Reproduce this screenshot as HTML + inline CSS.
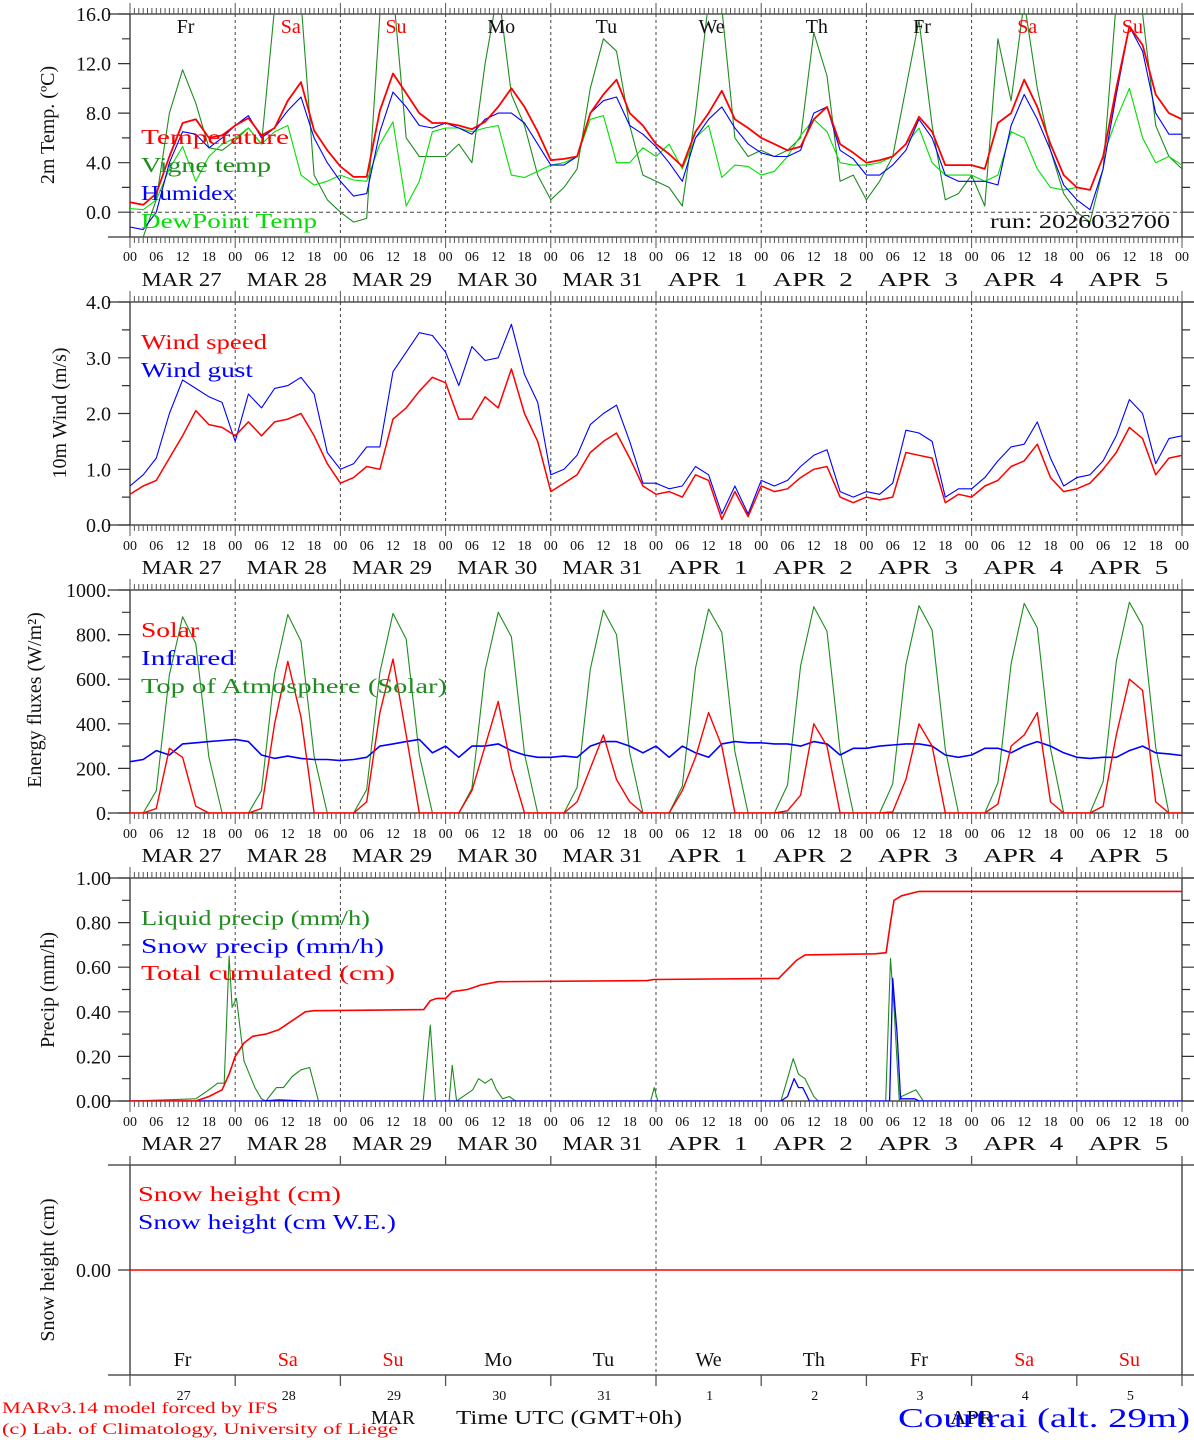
<!DOCTYPE html>
<html><head><meta charset="utf-8"><style>
html,body{margin:0;padding:0;background:#fff;}
svg{display:block;font-family:"Liberation Serif","DejaVu Serif",serif;}
.pre{white-space:pre;}
</style></head><body>
<svg id="c" width="1194" height="1440" viewBox="0 0 1194 1440" xmlns="http://www.w3.org/2000/svg"></svg>
<script>
// ---------- DATA (3-hourly, 0..240 h) ----------
const dayNames=['Fr','Sa','Su','Mo','Tu','We','Th','Fr','Sa','Su'];
const dateLabels=['MAR 27','MAR 28','MAR 29','MAR 30','MAR 31','APR  1','APR  2','APR  3','APR  4','APR  5'];
const dayNums=['27','28','29','30','31','1','2','3','4','5'];
const hourLabels=['00','06','12','18'];

const temperature=[0.8,0.6,1.5,4.5,7.2,7.5,6.0,6.2, 7.0,7.6,6.2,6.8,9.0,10.5,6.6,5.0, 3.7,2.85,2.85,8.2,11.2,9.6,8.0,7.2, 7.2,7.0,6.7,7.3,8.5,10.0,8.5,6.5, 4.2,4.3,4.5,8.0,9.5,10.7,8.0,7.0, 5.5,4.7,3.7,6.5,8.0,9.8,7.5,6.8, 6.0,5.5,5.0,5.3,7.5,8.5,5.5,4.8, 4.0,4.2,4.5,5.5,7.7,6.5,3.8,3.8, 3.8,3.5,7.2,8.0,10.7,8.5,5.5,3.0, 2.0,1.8,4.5,10.0,15.0,13.5,9.5,8.0, 7.5];
const humidex=[-1.2,-1.4,0,4,6.5,6.3,5.2,6.0, 7.0,7.8,6.0,6.8,8.2,9.3,6.0,4.0, 2.5,1.3,1.5,6.5,9.7,8.5,7.0,6.8, 7.2,6.8,6.3,7.5,8.0,8.0,7.2,5.5, 3.8,3.8,4.5,8.0,9.0,9.3,7.0,6.3, 5.3,4.0,2.5,6.0,7.5,8.5,6.8,5.5, 4.8,4.5,4.5,5.0,8.0,8.5,5.0,4.3, 3.0,3.0,3.8,5.0,7.5,6.0,3.0,2.5, 2.5,2.5,2.2,7.0,9.5,7.5,5.0,2.2, 1.0,0.2,3.5,9.5,15.0,13.0,8.0,6.3, 6.3];
const dewPoint=[0.3,0.2,1.0,3.5,5.3,2.5,4.5,5.5, 6.0,6.8,5.5,6.5,7.0,3.0,2.2,2.5, 3.0,2.6,2.5,5.5,7.3,0.5,2.5,6.5, 6.8,6.8,6.5,6.8,7.0,3.0,2.8,3.3, 3.8,4.0,4.5,7.5,7.8,4.0,4.0,5.2, 4.5,5.5,3.5,6.0,7.0,2.8,3.8,3.7, 3.0,3.3,4.5,6.2,7.5,6.5,4.0,3.8, 3.8,4.0,4.5,5.5,6.8,4.0,3.0,3.0, 3.0,2.5,3.0,6.5,6.0,3.5,2.0,1.8, 2.0,1.8,4.5,7.5,10.0,6.0,4.0,4.5, 3.8];
const vigneTemp=[-2.5,-2,1,8,11.5,8.8,5.2,5.0, 5.8,6.8,5.5,16.5,20,17,3,1, 0,-0.8,-0.5,16,18,6,4.5,4.5, 4.5,5.5,4.0,12,18,9.5,7.0,3.0, 1.0,2.0,3.5,10,14,13,7,3, 2.5,2.0,0.5,8.0,17,16.5,6.0,4.5, 5.0,4.5,5.0,6.0,14.5,11,2.5,3.0, 1.0,2.5,4.5,10.0,15.5,7,1.0,1.5, 3.0,0.5,14.0,9.0,17,10,5,1.5, 0,-0.8,3.5,17,20,16,7,4.5, 3.5];

const windSpeed=[0.55,0.7,0.8,1.2,1.6,2.05,1.8,1.75, 1.6,1.85,1.6,1.85,1.9,2.0,1.6,1.1, 0.75,0.85,1.05,1.0,1.9,2.1,2.4,2.65, 2.55,1.9,1.9,2.3,2.1,2.8,2.0,1.5, 0.6,0.75,0.9,1.3,1.5,1.65,1.2,0.7, 0.55,0.6,0.5,0.9,0.8,0.1,0.6,0.15, 0.7,0.6,0.65,0.85,1.0,1.05,0.5,0.4, 0.5,0.45,0.5,1.3,1.25,1.2,0.4,0.55, 0.5,0.7,0.8,1.05,1.15,1.45,0.85,0.6, 0.65,0.75,1.0,1.3,1.75,1.55,0.9,1.2, 1.25];
const windGust=[0.7,0.9,1.2,2.0,2.6,2.45,2.3,2.2, 1.5,2.35,2.1,2.45,2.5,2.65,2.35,1.3, 1.0,1.1,1.4,1.4,2.75,3.1,3.45,3.4, 3.1,2.5,3.2,2.95,3.0,3.6,2.7,2.2, 0.9,1.0,1.25,1.8,2.0,2.15,1.5,0.75, 0.75,0.65,0.7,1.05,0.9,0.2,0.7,0.2, 0.8,0.7,0.8,1.05,1.25,1.35,0.6,0.5, 0.6,0.55,0.75,1.7,1.65,1.5,0.5,0.65, 0.65,0.85,1.15,1.4,1.45,1.85,1.2,0.7, 0.85,0.9,1.15,1.6,2.25,2.0,1.1,1.55, 1.6];

const toaSolar=[0,0,100,620,880,760,250,0, 0,0,100,625,890,770,255,0, 0,0,105,630,895,780,260,0, 0,0,110,640,900,790,265,0, 0,0,115,645,910,800,270,0, 0,0,120,650,915,810,275,0, 0,0,125,660,925,815,280,0, 0,0,130,665,930,820,285,0, 0,0,135,670,940,830,290,0, 0,0,140,680,945,840,295,0, 0];
const solar=[0,0,20,290,250,30,0,0, 0,0,20,400,680,430,0,0, 0,0,50,450,690,350,0,0, 0,0,100,300,500,200,0,0, 0,0,50,200,350,150,50,0, 0,0,100,250,450,300,0,0, 0,0,10,80,400,300,0,0, 0,0,5,150,400,300,0,0, 0,0,40,300,350,450,50,0, 0,0,30,350,600,550,50,0, 0];
const infrared=[230,240,280,260,310,315,320,325, 330,320,260,245,255,245,240,240, 235,240,250,300,310,320,330,270, 300,250,300,300,310,280,260,250, 250,255,250,300,320,320,300,270, 300,250,300,270,250,310,320,315, 315,310,310,300,320,310,260,290, 290,300,305,310,310,300,260,250, 260,290,290,270,300,320,300,270, 250,245,250,250,280,300,270,265, 258];

const liquidHours=[0,15,18,20,21.5,22.6,23.3,24.3,26,28.5,30,31,33.4,35,37,39,41,43, 66.9,68.5,69.7,72.8,73.5,74.5,78.2,79.5,81,82.5,83.6,85,86.5,88, 118.8,119.6,120.4, 148.5,150,151.3,152.5,154,156,157, 172.4,173.5,174.3,175.5,176,179.3,181,240];
const liquidVals=[0,0.01,0.05,0.08,0.08,0.65,0.42,0.46,0.18,0.06,0.01,0,0.06,0.06,0.11,0.14,0.15,0, 0,0.34,0, 0,0.16,0, 0.05,0.1,0.08,0.1,0.05,0.01,0.02,0, 0,0.06,0, 0,0.1,0.19,0.12,0.1,0.02,0, 0,0.64,0.42,0,0.02,0.05,0,0];
const snowHours=[0,30,34,40,148.5,150,151.5,152.5,153.5,155,173.3,174,175,175.8,179,180,240];
const snowVals=[0,0,0.005,0,0,0.02,0.1,0.06,0.06,0,0,0.55,0.3,0.01,0.01,0,0];
const cumHours=[0,15,18,21,22.6,24,26,28,31,34,37,40,42,67,68.5,70,72,73.5,77,80,84,118,119.5,148,150,152,154,170,172.5,173.5,174.3,176,180,240];
const cumVals=[0,0,0.02,0.05,0.12,0.2,0.26,0.29,0.3,0.32,0.36,0.4,0.405,0.41,0.45,0.46,0.46,0.49,0.5,0.52,0.535,0.54,0.545,0.55,0.59,0.63,0.655,0.66,0.665,0.8,0.9,0.92,0.94,0.94];
const snowHeight=[0,0];
const snowHeightHours=[0,240];

// ---------- DRAWING ----------
const svg=document.getElementById('c');
const NS='http://www.w3.org/2000/svg';
const X0=130, DW=105.2, X1=X0+10*DW;
function X(h){return X0+h/24*DW;}
function el(tag,attrs,parent){const e=document.createElementNS(NS,tag);for(const k in attrs)e.setAttribute(k,attrs[k]);(parent||svg).appendChild(e);return e;}
function txt(s,x,y,attrs,parent){const e=el('text',Object.assign({x:x,y:y},attrs),parent);e.textContent=s;return e;}
const RED='#ff0000',BLUE='#0000ff',DG='#1e8c1e',LG='#00e000';

const panels=[
 {key:'temp',top:14,bottom:237,vmin:-2,vmax:16,ticks:[0,4,8,12,16],fmt:v=>v.toFixed(1),minor:2,hourY:261,dateY:286,title:'2m Temp. (ºC)',tx:54,ty:125},
 {key:'wind',top:302,bottom:525,vmin:0,vmax:4,ticks:[0,1,2,3,4],fmt:v=>v.toFixed(1),minor:0.5,hourY:550,dateY:574,title:'10m Wind (m/s)',tx:66,ty:413},
 {key:'energy',top:590,bottom:813,vmin:0,vmax:1000,ticks:[0,200,400,600,800,1000],fmt:v=>v+'.',minor:100,hourY:838,dateY:862,title:'Energy fluxes (W/m²)',tx:41,ty:700},
 {key:'precip',top:878,bottom:1101,vmin:0,vmax:1,ticks:[0,0.2,0.4,0.6,0.8,1],fmt:v=>v.toFixed(2),minor:0.1,hourY:1126,dateY:1150,title:'Precip (mm/h)',tx:54,ty:990},
 {key:'snow',top:1165,bottom:1375,vmin:-1,vmax:1,ticks:[0],fmt:v=>v.toFixed(2),minor:0,title:'Snow height (cm)',tx:54,ty:1270}
];
panels.forEach(p=>{p.Y=v=>p.bottom-(v-p.vmin)/(p.vmax-p.vmin)*(p.bottom-p.top);});

function drawPanel(p){
  const g=el('g',{},svg);
  
  
  const defs=el('defs',{},g);
  const cp=el('clipPath',{id:'clip-'+p.key},defs);
  el('rect',{x:X0,y:p.top,width:X1-X0,height:p.bottom-p.top},cp);
  for(let d=1;d<10;d++){
    if(p.key==='snow'&&d!==5)continue;
    const l=el('line',{x1:X(d*24),x2:X(d*24),y1:p.top,y2:p.key==='snow'?p.bottom+10:p.bottom,stroke:'#444','stroke-width':1,'stroke-dasharray':'3,3'},g);
    
    
  }
  const fr=el('rect',{x:X0,y:p.top,width:X1-X0,height:p.bottom-p.top,fill:'none',stroke:'#333','stroke-width':1.3},g);
  
  
  el('line',{x1:X0-22,x2:X0,y1:p.top,y2:p.top,stroke:'#333','stroke-width':1.3},g);
  el('line',{x1:X0-22,x2:X0,y1:p.bottom,y2:p.bottom,stroke:'#333','stroke-width':1.3},g);
  el('line',{x1:X1,x2:X1+12,y1:p.top,y2:p.top,stroke:'#333','stroke-width':1.3},g);
  el('line',{x1:X1,x2:X1+12,y1:p.bottom,y2:p.bottom,stroke:'#333','stroke-width':1.3},g);
  if(p.key!=='snow'){
    let dpath='';
    for(let h=0;h<=240;h++){
      const x=X(h).toFixed(1);const L=(h%24===0)?11:6;
      dpath+=`M${x} ${p.top}v${-L}M${x} ${p.bottom}v${L}`;
    }
    el('path',{d:dpath,stroke:'#555','stroke-width':1,fill:'none'},g);
    for(let d=0;d<10;d++){
      hourLabels.forEach((s,i)=>{
        const t=txt(s,X(d*24+i*6),p.hourY,{'font-size':14,'text-anchor':'middle',fill:'#111'},g);
        
        
      });
      const t=txt(dateLabels[d],X(d*24+12)-1,p.dateY,{'font-size':20,'text-anchor':'middle',fill:'#111',class:'pre',textLength:80,lengthAdjust:'spacingAndGlyphs'},g);
      
      
    }
    const t=txt('00',X(240),p.hourY,{'font-size':14,'text-anchor':'middle',fill:'#111'},g);
    
    
  } else {
    let dpath='';
    for(let d=0;d<=10;d++){const x=X(d*24).toFixed(1);dpath+=`M${x} ${p.top}v-9M${x} ${p.bottom}v11`;}
    el('path',{d:dpath,stroke:'#555','stroke-width':1.3,fill:'none'},g);
  }
  let ypath='';
  if(p.minor){
    for(let v=p.ticks[0];v<=p.vmax+1e-9;v+=p.minor){
      const y=p.Y(v).toFixed(1);const major=p.ticks.some(t=>Math.abs(t-v)<1e-6);const L=major?12:8;
      ypath+=`M${X0} ${y}h${-L}M${X1} ${y}h${L}`;
    }
  }
  p.ticks.forEach(v=>{const y=p.Y(v).toFixed(1);ypath+=`M${X0} ${y}h-12M${X1} ${y}h12`;});
  el('path',{d:ypath,stroke:'#333','stroke-width':1.2,fill:'none'},g);
  p.ticks.forEach(v=>{
    const t=txt(p.fmt(v),X0-19,p.Y(v)+7,{'font-size':20,'text-anchor':'end',fill:'#111'},g);
    
    
  });
  const yt=txt(p.title,0,0,{'font-size':20,'text-anchor':'middle',fill:'#111',transform:`translate(${p.tx},${p.ty}) rotate(-90)`},g);
  
  
  const dg=el('g',{'clip-path':`url(#clip-${p.key})`},g);
  return dg;
}

function series3h(arr){return arr.map((v,i)=>[i*3,v]);}
function pairs(hs,vs){return hs.map((h,i)=>[h,vs[i]]);}
function line(p,parent,pts,color,w,name){
  const d=pts.map((q,i)=>(i?'L':'M')+X(q[0]).toFixed(1)+' '+p.Y(q[1]).toFixed(1)).join('');
  const e=el('path',{d:d,fill:'none',stroke:color,'stroke-width':w,'stroke-linejoin':'round'},parent);
  
  
  return e;
}
function legend(parent,s,x,y,color,len,name){
  const t=txt(s,x,y,{'font-size':21,fill:color,textLength:len,lengthAdjust:'spacingAndGlyphs'},parent);
  
  
}

const pT=panels[0];const gT=drawPanel(pT);
el('line',{x1:X0,x2:X1,y1:pT.Y(0),y2:pT.Y(0),stroke:'#444','stroke-dasharray':'4,3','stroke-width':1},svg);
line(pT,gT,series3h(vigneTemp),DG,1.1,'vigne-temp-line');
line(pT,gT,series3h(dewPoint),LG,1.1,'dewpoint-line');
line(pT,gT,series3h(humidex),BLUE,1.1,'humidex-line');
line(pT,gT,series3h(temperature),RED,1.8,'temperature-line');
dayNames.forEach((n,d)=>{
  const t=txt(n,X(d*24+12)+3,33,{'font-size':20,'text-anchor':'middle',fill:(n==='Sa'||n==='Su')?RED:'#111'},svg);
  
  
});
legend(svg,'Temperature',141,144,RED,148,'legend-temperature');
legend(svg,'Vigne temp',141,172,DG,130,'legend-vigne-temp');
legend(svg,'Humidex',141,200,BLUE,94,'legend-humidex');
legend(svg,'DewPoint Temp',141,228,LG,176,'legend-dewpoint');
{const t=txt('run: 2026032700',990,228,{'font-size':20,fill:'#111',textLength:180,lengthAdjust:'spacingAndGlyphs'},svg);
}

const pW=panels[1];const gW=drawPanel(pW);
line(pW,gW,series3h(windGust),BLUE,1.1,'wind-gust-line');
line(pW,gW,series3h(windSpeed),RED,1.5,'wind-speed-line');
legend(svg,'Wind speed',141,349,RED,126,'legend-wind-speed');
legend(svg,'Wind gust',141,377,BLUE,112,'legend-wind-gust');

const pE=panels[2];const gE=drawPanel(pE);
line(pE,gE,series3h(toaSolar),DG,1.1,'toa-solar-line');
line(pE,gE,series3h(infrared),BLUE,1.6,'infrared-line');
line(pE,gE,series3h(solar),RED,1.4,'solar-line');
legend(svg,'Solar',141,637,RED,58,'legend-solar');
legend(svg,'Infrared',141,665,BLUE,94,'legend-infrared');
legend(svg,'Top of Atmosphere (Solar)',141,693,DG,306,'legend-toa');

const pP=panels[3];const gP=drawPanel(pP);
line(pP,gP,pairs(liquidHours,liquidVals),DG,1.1,'liquid-precip-line');
line(pP,gP,pairs(snowHours,snowVals),BLUE,1.3,'snow-precip-line');
line(pP,gP,pairs(cumHours,cumVals),RED,1.6,'cumulated-precip-line');
legend(svg,'Liquid precip (mm/h)',141,925,DG,229,'legend-liquid');
legend(svg,'Snow precip (mm/h)',141,953,BLUE,243,'legend-snow-precip');
legend(svg,'Total cumulated (cm)',141,980,RED,254,'legend-cumulated');

const pS=panels[4];const gS=drawPanel(pS);
line(pS,gS,pairs(snowHeightHours,snowHeight),RED,1.6,'snow-height-line');
legend(svg,'Snow height (cm)',138,1201,RED,203,'legend-snow-height');
legend(svg,'Snow height (cm W.E.)',138,1229,BLUE,258,'legend-snow-we');
dayNames.forEach((n,d)=>{
  const t=txt(n,X(d*24+12),1366,{'font-size':20,'text-anchor':'middle',fill:(n==='Sa'||n==='Su')?RED:'#111'},svg);
  
  
  const t2=txt(dayNums[d],X(d*24+12)+1,1400,{'font-size':14,'text-anchor':'middle',fill:'#111'},svg);
  
  
});
function foot(s,x,y,size,color,len,name){
  const t=txt(s,x,y,{'font-size':size,fill:color,textLength:len,lengthAdjust:'spacingAndGlyphs'},svg);
  
  
}
foot('MAR',371,1424,20,'#111',44,'month-label-mar');
foot('APR',950,1424,20,'#111',44,'month-label-apr');
foot('Time UTC (GMT+0h)',456,1424,20,'#111',226,'x-axis-title');
foot('MARv3.14 model forced by IFS',2,1413,16,RED,276,'model-credit');
foot('(c) Lab. of Climatology, University of Liege',2,1434,16,RED,396,'lab-credit');
foot('Courtrai (alt. 29m)',898,1427,27,BLUE,292,'station-title');
</script>
</body></html>
